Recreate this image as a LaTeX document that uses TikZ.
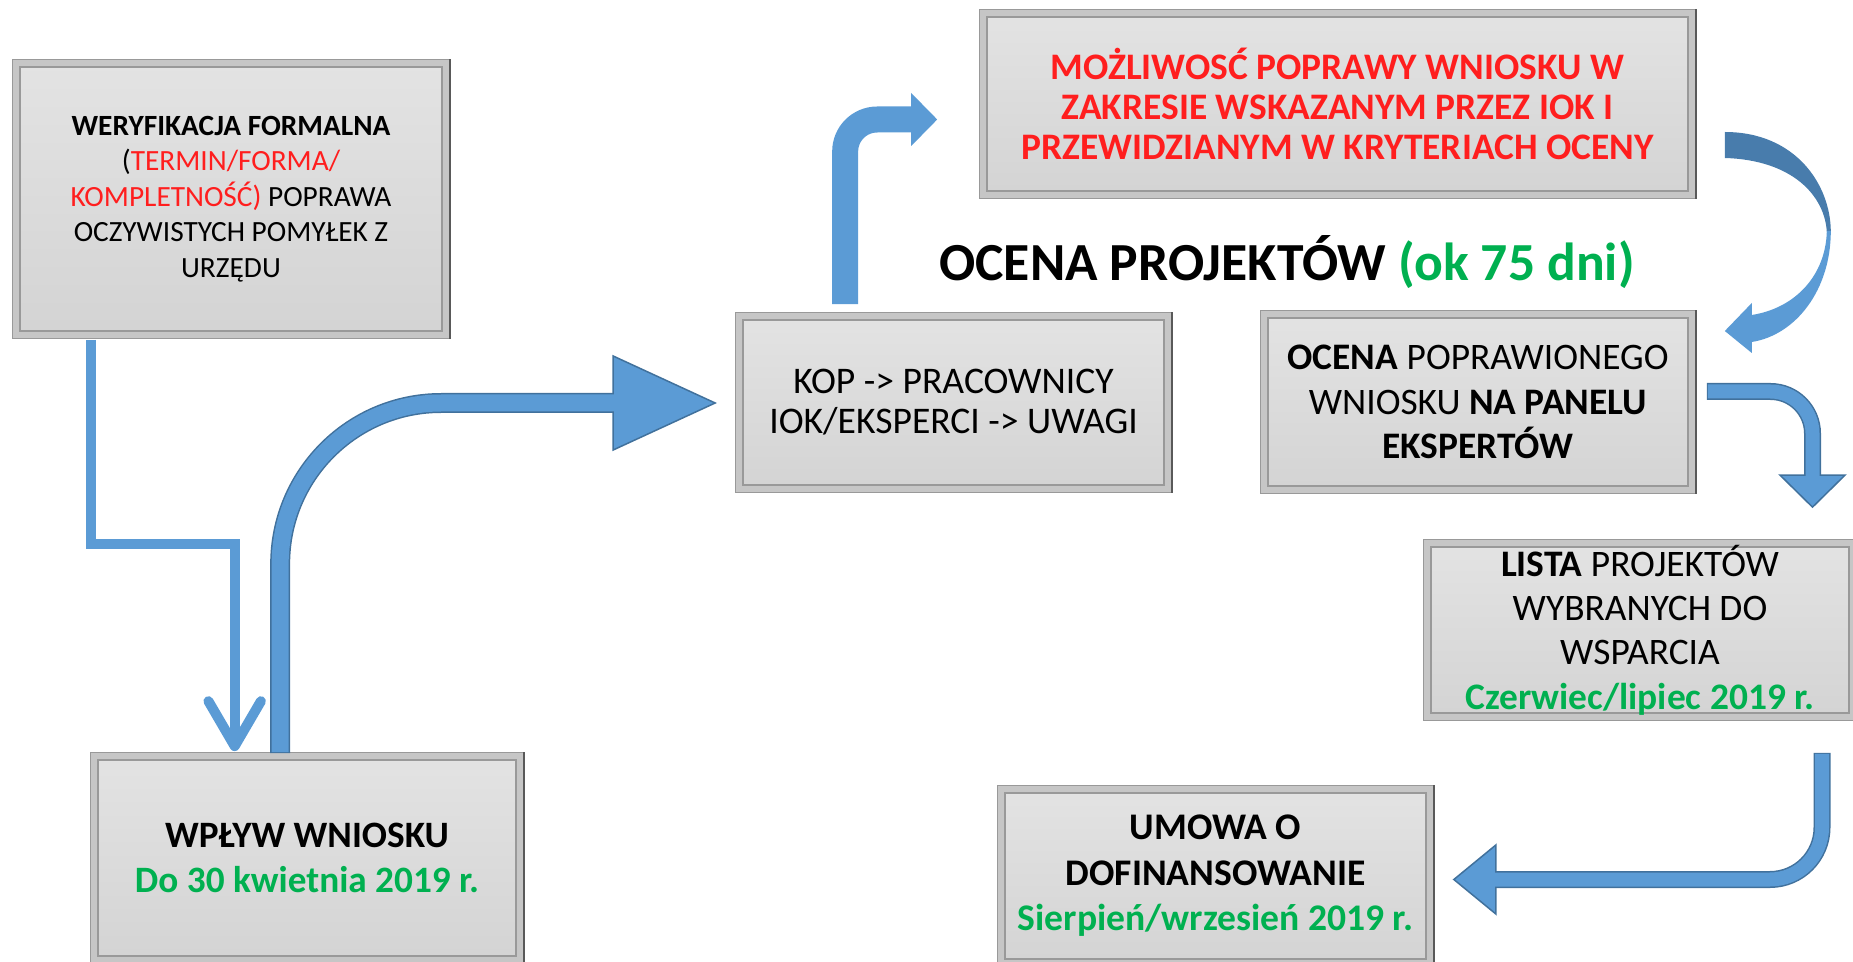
\documentclass[tikz,border=0pt]{standalone}
\usepackage{fontspec}
\setmainfont{Carlito}
\usetikzlibrary{arrows.meta, calc}
\definecolor{niebieski}{RGB}{91,155,213}
\definecolor{obrys}{RGB}{65,113,156}
\definecolor{ciemny}{RGB}{72,124,172}
\definecolor{czerwony}{RGB}{255,30,30}
\definecolor{zielony}{RGB}{0,176,80}

\tikzset{
  kafel/.style={rectangle, inner sep=0pt, align=center, top color=gray!22, bottom color=gray!34,
    draw=gray!80, double=gray!45, double distance=0.11cm, line width=0.035cm},
  napis/.style={font=\fontsize{21.3}{25.3}\selectfont},
  obrysowka/.style={obrys, line width=0.34cm},
  wnetrze/.style={niebieski, line width=0.28cm},
}

\begin{document}
\begin{tikzpicture}[x=0.02cm, y=-0.02cm, >=latex]
\useasboundingbox (0,0) rectangle (1853,962);
\clip (0,0) rectangle (1853,962);

% bloki
\node (weryfikacja) [kafel, minimum width=8.6cm, minimum height=5.44cm, font=\fontsize{16.7}{20.2}\selectfont] at (231,199)
  {\textbf{WERYFIKACJA FORMALNA}\\(\textcolor{czerwony}{TERMIN/FORMA/}\\\textcolor{czerwony}{KOMPLETNOŚĆ)} POPRAWA\\OCZYWISTYCH POMYŁEK Z\\URZĘDU};
\node (kop) [kafel, minimum width=8.58cm, minimum height=3.46cm, font=\fontsize{21.4}{22.8}\selectfont] at (953.5,402.5)
  {KOP -> PRACOWNICY\\IOK/EKSPERCI -> UWAGI};
\node (poprawa) [kafel, minimum width=14.18cm, minimum height=3.64cm, font=\fontsize{21.3}{22.8}\selectfont\bfseries, text=czerwony] at (1337.5,104)
  {MOŻLIWOSĆ POPRAWY WNIOSKU W\\ZAKRESIE WSKAZANYM PRZEZ IOK I\\PRZEWIDZIANYM W KRYTERIACH OCENY};
\node (panel) [kafel, napis, minimum width=8.56cm, minimum height=3.52cm] at (1478,402)
  {\textbf{OCENA} POPRAWIONEGO\\WNIOSKU \textbf{NA PANELU}\\\textbf{EKSPERTÓW}};
\node (lista) [kafel, napis, minimum width=8.52cm, minimum height=3.48cm] at (1640,630)
  {\textbf{LISTA} PROJEKTÓW\\WYBRANYCH DO\\WSPARCIA\\\textcolor{zielony}{\textbf{Czerwiec/lipiec 2019 r.}}};
\node (umowa) [kafel, minimum width=8.58cm, minimum height=3.48cm, font=\fontsize{21.4}{25.9}\selectfont\bfseries] at (1215.5,876)
  {UMOWA O\\DOFINANSOWANIE\\\textcolor{zielony}{Sierpień/wrzesień 2019 r.}};
\node (wplyw) [kafel, napis, minimum width=8.52cm, minimum height=4.08cm, font=\fontsize{21.2}{25.3}\selectfont\bfseries] at (307,858)
  {WPŁYW WNIOSKU\\\textcolor{zielony}{Do 30 kwietnia 2019 r.}};
\node (tytul) [anchor=base, font=\fontsize{30.5}{36}\selectfont\bfseries] at (1287,281)
  {OCENA PROJEKTÓW \textcolor{zielony}{(ok 75 dni)}};

% ciemna krawedz z prawej
\foreach \blok in {weryfikacja, kop, poprawa, panel, lista, umowa, wplyw}
  \draw[black!65, line width=0.05cm] ([xshift=0.06cm, yshift=0.06cm]\blok.north east) -- ([xshift=0.06cm, yshift=-0.06cm]\blok.south east);

% weryfikacja -> wplyw
\draw[niebieski, line width=0.2cm, -{Straight Barb[length=0.9cm, width=1.05cm, round]}]
  ($(weryfikacja.south west)+(76,4)$) |- ($(wplyw.north west)+(141.5,-211)$) -- ($(wplyw.north west)+(141.5,-4)$);

% wplyw -> kop
\coordinate (s2) at ($(wplyw.north west)+(187,-2)$);
\coordinate (h2) at ($(kop.west)+(-125,0.5)$);
\draw[obrys, line width=0.4cm, rounded corners=3.22cm] (s2) |- (h2);
\filldraw[fill=niebieski, draw=obrys, line width=0.03cm] ($(h2)+(0,-47)$) -- ($(h2)+(102,0)$) -- ($(h2)+(0,47)$) -- cycle;
\draw[niebieski, line width=0.34cm, rounded corners=3.22cm] ($(s2)+(0,-1)$) |- ($(h2)+(1.5,0)$);

% kop -> poprawa
\coordinate (s3) at ($(kop.north west)+(107,-11)$);
\coordinate (h3) at ($(poprawa.west)+(-71,15.5)$);
\fill[niebieski] ($(h3)+(0,-26.5)$) -- ($(h3)+(26,0)$) -- ($(h3)+(0,26.5)$) -- cycle;
\draw[niebieski, line width=0.52cm, rounded corners=0.64cm] (s3) |- ($(h3)+(0.5,0)$);

% poprawa -> panel (wstega)
\begin{scope}[shift={(poprawa.east)}]
  \fill[ciemny] (32,28) .. controls (103,28) and (138,81) .. (138,128)
    -- (134,128) .. controls (132,92) and (100,56) .. (32,54) -- cycle;
  \fill[niebieski] (138,127) .. controls (138,186) and (103,231) .. (59,238)
    -- (59,249) -- (32,227) -- (59,199) -- (59,211)
    .. controls (103,204) and (133,171) .. (134,127) -- cycle;
\end{scope}

% panel -> lista
\coordinate (s5) at ($(panel.east)+(14,-10.5)$);
\coordinate (h5) at ($(lista.north)+(172.5,-67)$);
\draw[obrysowka, rounded corners=0.84cm] (s5) -| (h5);
\filldraw[fill=niebieski, draw=obrys, line width=0.03cm] ($(h5)+(-32.5,0)$) -- ($(h5)+(0,32)$) -- ($(h5)+(32.5,0)$) -- cycle;
\draw[wnetrze, rounded corners=0.84cm] ($(s5)+(1,0)$) -| ($(h5)+(0,1.5)$);

% lista -> umowa
\coordinate (s6) at ($(lista.south)+(182,35)$);
\coordinate (h6) at ($(umowa.east)+(65,3.5)$);
\draw[obrysowka, rounded corners=1.04cm] (s6) |- (h6);
\filldraw[fill=niebieski, draw=obrys, line width=0.03cm] ($(h6)+(0,-34.5)$) -- ($(h6)+(-42,0)$) -- ($(h6)+(0,34.5)$) -- cycle;
\draw[wnetrze, rounded corners=1.04cm] ($(s6)+(0,1)$) |- ($(h6)+(-1.5,0)$);
\end{tikzpicture}
\end{document}
